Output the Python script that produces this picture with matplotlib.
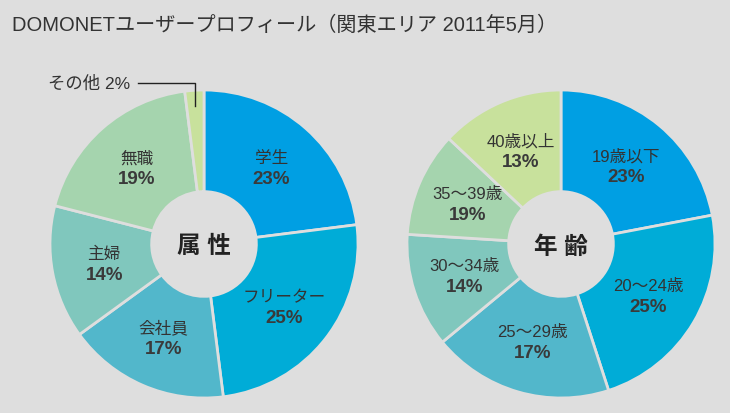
import numpy as np
import matplotlib
matplotlib.use("Agg")
import matplotlib.pyplot as plt

# Helvetica-like Latin/digits, CJK falls through to Noto
plt.rcParams["font.family"] = ["Liberation Sans", "Noto Sans CJK JP", "DejaVu Sans"]

TITLE = "DOMONETユーザープロフィール（関東エリア 2011年5月）"

# 属性 (attribute) ring
attr_labels = ["学生", "フリーター", "会社員", "主婦", "無職", "その他"]
attr_values = [23, 25, 17, 14, 19, 2]

# 年齢 (age) ring: printed percentages, and slice sizes as drawn in the source
age_labels = ["19歳以下", "20～24歳", "25～29歳", "30～34歳", "35～39歳", "40歳以上"]
age_values = [23, 25, 17, 14, 19, 13]
age_shares = [22, 23, 19, 12, 11, 13]

COLORS = ["#009fe3", "#00acd7", "#52b7cb", "#80c7bd", "#a5d4ae", "#c8e19c"]
BG = "#dedede"
TXT = "#333333"

W, H = 730, 414
R = 154          # outer radius in px
HOLE = 0.34      # inner radius as fraction of R


def donut(ax, cx, cy, shares, labels, pcts, center_text, skip_last=False):
    wedges, _ = ax.pie(
        shares,
        colors=COLORS,
        startangle=90,
        counterclock=False,
        center=(cx, cy),
        radius=R,
        wedgeprops=dict(width=R * (1 - HOLE), edgecolor=BG, linewidth=2.0),
    )
    n = len(wedges) - 1 if skip_last else len(wedges)
    for w, lab, p in list(zip(wedges, labels, pcts))[:n]:
        ang = np.deg2rad((w.theta1 + w.theta2) / 2)
        x = cx + 0.66 * R * np.cos(ang)
        y = cy + 0.66 * R * np.sin(ang)
        ax.text(x, y + 10, lab, ha="center", va="center", fontsize=12, color=TXT)
        ax.text(x, y - 11, f"{p}%", ha="center", va="center", fontsize=13.5,
                fontweight="bold", color="#3a3a3a")
    ax.text(cx, cy - 2, center_text, ha="center", va="center", fontsize=17,
            fontweight="bold", color="#222222")
    return wedges


fig = plt.figure(figsize=(W / 100, H / 100), dpi=100, facecolor=BG)
ax = fig.add_axes([0, 0, 1, 1])
ax.set_facecolor(BG)

left = donut(ax, 204, 169, attr_values, attr_labels, attr_values, "属 性", skip_last=True)
donut(ax, 561, 169, age_shares, age_labels, age_values, "年 齢")

# leader for the small "その他" slice
w = left[-1]
ang = np.deg2rad((w.theta1 + w.theta2) / 2)
px = 204 + 0.9 * R * np.cos(ang)
py = 169 + 0.9 * R * np.sin(ang)
ax.plot([138, px, px], [330, 330, py], color="#222222", lw=1.0)
ax.text(130, 330, f"{attr_labels[-1]} {attr_values[-1]}%", ha="right", va="center",
        fontsize=12.5, color=TXT)

ax.text(12, H - 25, TITLE, ha="left", va="center", fontsize=14.5, color=TXT)

ax.set_xlim(0, W)
ax.set_ylim(0, H)
ax.set_aspect("equal")
ax.axis("off")

fig.savefig("out.png", dpi=100, facecolor=BG)
